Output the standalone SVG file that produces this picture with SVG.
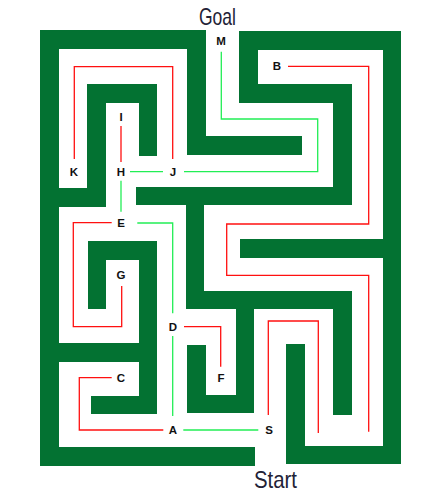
<svg xmlns="http://www.w3.org/2000/svg" width="430" height="504" viewBox="0 0 430 504">
<style>
.w{fill:#037232}
.r{fill:none;stroke:#ff1010;stroke-width:1.3}
.g{fill:none;stroke:#22ee55;stroke-width:1.3}
.lb{font-family:"Liberation Sans",Arial,sans-serif;font-weight:bold;font-size:11.5px;fill:#111;text-anchor:middle}
.tt{font-family:"Liberation Sans",Arial,sans-serif;font-size:24px;fill:#222236}
</style>
<rect width="430" height="504" fill="#fff"/>
<g id="walls">
<rect class="w" x="40" y="30" width="166" height="19"/>
<rect class="w" x="40" y="30" width="19" height="436"/>
<rect class="w" x="40" y="447" width="215" height="19"/>
<rect class="w" x="187" y="30" width="19" height="125"/>
<rect class="w" x="187" y="136" width="115" height="19"/>
<rect class="w" x="87" y="84" width="70" height="19"/>
<rect class="w" x="87" y="84" width="19" height="123"/>
<rect class="w" x="139" y="84" width="18" height="72"/>
<rect class="w" x="40" y="188" width="66" height="19"/>
<rect class="w" x="136" y="187" width="216" height="18"/>
<rect class="w" x="186" y="187" width="18" height="122"/>
<rect class="w" x="186" y="291" width="166" height="18"/>
<rect class="w" x="333" y="291" width="19" height="124"/>
<rect class="w" x="236" y="291" width="18" height="122"/>
<rect class="w" x="187" y="395" width="67" height="18"/>
<rect class="w" x="187" y="345" width="19" height="68"/>
<rect class="w" x="239" y="31" width="162" height="19"/>
<rect class="w" x="383" y="31" width="18" height="433"/>
<rect class="w" x="286" y="446" width="115" height="18"/>
<rect class="w" x="286" y="344" width="19" height="120"/>
<rect class="w" x="239" y="31" width="19" height="72"/>
<rect class="w" x="239" y="84" width="113" height="19"/>
<rect class="w" x="333" y="84" width="19" height="121"/>
<rect class="w" x="240" y="239" width="143" height="19"/>
<rect class="w" x="88" y="241" width="69" height="19"/>
<rect class="w" x="88" y="241" width="18" height="68"/>
<rect class="w" x="139" y="241" width="18" height="173"/>
<rect class="w" x="40" y="343" width="117" height="19"/>
<rect class="w" x="91" y="396" width="66" height="18"/>
</g>
<g id="connectors">
<path class="r" d="M74.3 159V66.7H172.7V159"/>
<path class="r" d="M121 126V162"/>
<path class="r" d="M111.7 222.7H73.3V326.7H121.7V286"/>
<path class="r" d="M184 326.7H220.7V366.7"/>
<path class="r" d="M111.7 377.7H79.3V430H163.3"/>
<path class="r" d="M288 66.3H368.7V224H226.7V275.3H368.7V431.7"/>
<path class="r" d="M268.3 415V321H318.3V433"/>
<path class="g" d="M221.3 51.7V119H317.7V171.7H184"/>
<path class="g" d="M130 171.7H163"/>
<path class="g" d="M121 180.7V211.7"/>
<path class="g" d="M137.3 223H172.7V313.3"/>
<path class="g" d="M172.7 336V416"/>
<path class="g" d="M183.3 430H258.3"/>
</g>
<g id="goal"><text class="tt" x="199" y="25" textLength="37" lengthAdjust="spacingAndGlyphs">Goal</text></g>
<g id="start"><text class="tt" x="254" y="488" textLength="43" lengthAdjust="spacingAndGlyphs">Start</text></g>
<g id="node-M"><text class="lb" x="221" y="45">M</text></g>
<g id="node-B"><text class="lb" x="277" y="70">B</text></g>
<g id="node-I"><text class="lb" x="121" y="121">I</text></g>
<g id="node-K"><text class="lb" x="74" y="176">K</text></g>
<g id="node-H"><text class="lb" x="121" y="176">H</text></g>
<g id="node-J"><text class="lb" x="173" y="176">J</text></g>
<g id="node-E"><text class="lb" x="121" y="227">E</text></g>
<g id="node-G"><text class="lb" x="121" y="279">G</text></g>
<g id="node-D"><text class="lb" x="173" y="331">D</text></g>
<g id="node-C"><text class="lb" x="121" y="382">C</text></g>
<g id="node-F"><text class="lb" x="221" y="382">F</text></g>
<g id="node-A"><text class="lb" x="173" y="434">A</text></g>
<g id="node-S"><text class="lb" x="269" y="434">S</text></g>
</svg>
